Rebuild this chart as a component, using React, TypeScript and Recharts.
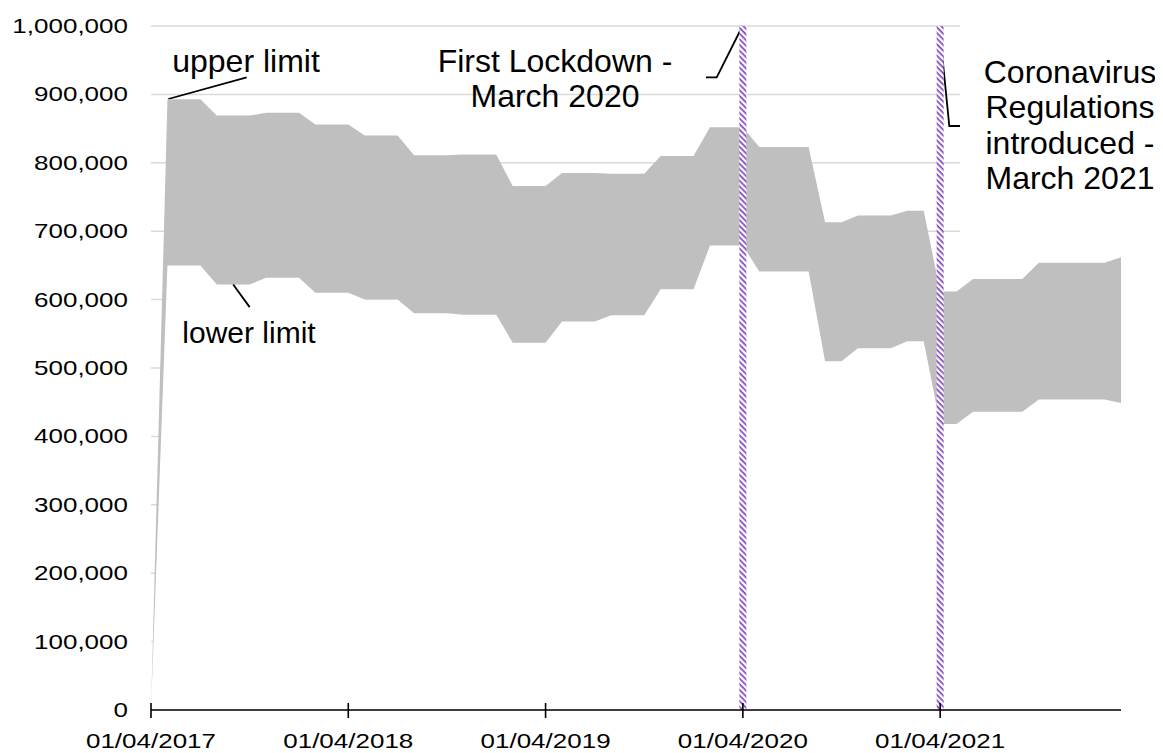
import { AreaChart, Area, XAxis, YAxis, CartesianGrid, ReferenceLine, Customized } from 'recharts';

// ── Data ──────────────────────────────────────────────────────────────────────

const months = [
  '01/04/2017', '01/05/2017', '01/06/2017', '01/07/2017', '01/08/2017', '01/09/2017',
  '01/10/2017', '01/11/2017', '01/12/2017', '01/01/2018', '01/02/2018', '01/03/2018',
  '01/04/2018', '01/05/2018', '01/06/2018', '01/07/2018', '01/08/2018', '01/09/2018',
  '01/10/2018', '01/11/2018', '01/12/2018', '01/01/2019', '01/02/2019', '01/03/2019',
  '01/04/2019', '01/05/2019', '01/06/2019', '01/07/2019', '01/08/2019', '01/09/2019',
  '01/10/2019', '01/11/2019', '01/12/2019', '01/01/2020', '01/02/2020', '01/03/2020',
  '01/04/2020', '01/05/2020', '01/06/2020', '01/07/2020', '01/08/2020', '01/09/2020',
  '01/10/2020', '01/11/2020', '01/12/2020', '01/01/2021', '01/02/2021', '01/03/2021',
  '01/04/2021', '01/05/2021', '01/06/2021', '01/07/2021', '01/08/2021', '01/09/2021',
  '01/10/2021', '01/11/2021', '01/12/2021', '01/01/2022', '01/02/2022', '01/03/2022',
];

const upperLimit = [
  0, 893000, 893000, 893000, 869000, 869000, 869000, 873000, 873000, 873000,
  856000, 856000, 856000, 840000, 840000, 840000, 811000, 811000, 811000, 812000,
  812000, 812000, 766000, 766000, 766000, 785000, 785000, 785000, 784000, 784000,
  784000, 810000, 810000, 810000, 852000, 852000, 852000, 823000, 823000, 823000,
  823000, 713000, 713000, 723000, 723000, 723000, 730000, 730000, 612000, 612000,
  630000, 630000, 630000, 630000, 654000, 654000, 654000, 654000, 654000, 662000,
];

const lowerLimit = [
  0, 650000, 650000, 650000, 622000, 622000, 622000, 632000, 632000, 632000,
  610000, 610000, 610000, 600000, 600000, 600000, 580000, 580000, 580000, 578000,
  578000, 578000, 537000, 537000, 537000, 568000, 568000, 568000, 577000, 577000,
  577000, 615000, 615000, 615000, 679000, 679000, 679000, 641000, 641000, 641000,
  641000, 510000, 510000, 529000, 529000, 529000, 539000, 539000, 418000, 418000,
  436000, 436000, 436000, 436000, 454000, 454000, 454000, 454000, 454000, 449000,
];

const xTicks = ['01/04/2017', '01/04/2018', '01/04/2019', '01/04/2020', '01/04/2021'];
const yTicks = [0, 100000, 200000, 300000, 400000, 500000, 600000, 700000, 800000, 900000, 1000000];

const firstLockdown = '01/04/2020';
const regulations = '01/04/2021';

const data = months.map((m, i) => ({
  month: m,
  lower: lowerLimit[i],
  band: [lowerLimit[i], upperLimit[i]],
}));

const FONT = 'Liberation Sans, Arial, sans-serif';
const STRETCH = 1.3;
const txt = { fontSize: 32, fontFamily: FONT, fill: '#000', textAnchor: 'middle' as const };

// ── Ticks ─────────────────────────────────────────────────────────────────────

function YTick({ x, y, payload }: any) {
  return (
    <text
      x={x}
      y={y}
      dy="0.355em"
      textAnchor="end"
      fontSize={20}
      fontFamily={FONT}
      fill="#000"
      transform={`translate(${x} ${y}) scale(${STRETCH} 1) translate(${-x} ${-y})`}
    >
      {Number(payload.value).toLocaleString('en-US')}
    </text>
  );
}

function XTick({ x, y, payload }: any) {
  const ty = y + 38;
  return (
    <g>
      <line x1={x} x2={x} y1={y - 7} y2={y + 8} stroke="#000" strokeWidth={1.6} />
      <text
        x={x}
        y={ty}
        textAnchor="middle"
        fontSize={20}
        fontFamily={FONT}
        fill="#000"
        transform={`translate(${x} ${ty}) scale(${STRETCH} 1) translate(${-x} ${-ty})`}
      >
        {payload.value}
      </text>
    </g>
  );
}

// ── Annotations ───────────────────────────────────────────────────────────────

function Annotations() {
  return (
    <g>
      <rect x={952} y={12} width={203} height={228} fill="#fff" />
      <polyline points="160.3,91 238.7,69.3" stroke="#000" strokeWidth={1.8} fill="none" />
      <polyline points="698,69.3 708.7,69.3 734.5,18" stroke="#000" strokeWidth={1.8} fill="none" />
      <polyline points="931.3,18 941.3,118 952,118" stroke="#000" strokeWidth={1.8} fill="none" />
      <text x={238} y={63.7} {...txt}>upper limit</text>
      <text x={547} y={63.7} {...txt}>First Lockdown -</text>
      <text x={547} y={99.3} {...txt}>March 2020</text>
      <text x={1062} y={74.5} {...txt}>Coronavirus</text>
      <text x={1062} y={110} {...txt}>Regulations</text>
      <text x={1062} y={145.5} {...txt}>introduced -</text>
      <text x={1062} y={181} {...txt}>March 2021</text>
    </g>
  );
}

function LowerLabel() {
  return <text x={241} y={335} {...txt} fontSize={30}>lower limit</text>;
}

function HatchDefs() {
  return (
    <defs>
      <pattern id="hatch" patternUnits="userSpaceOnUse" width={4} height={4} patternTransform="rotate(45)">
        <rect x={0} y={0} width={4} height={4} fill="#fff" />
        <rect x={0} y={0} width={4} height={1.6} fill="#7a3cc4" />
      </pattern>
    </defs>
  );
}

// ── Chart ─────────────────────────────────────────────────────────────────────

export default function App() {
  return (
    <AreaChart
      width={1155}
      height={745}
      data={data}
      margin={{ top: 18, right: 42, left: 0, bottom: 0 }}
    >
      <Customized component={HatchDefs} />
      <CartesianGrid vertical={false} stroke="#d9d9d9" strokeWidth={1.5} />
      <XAxis
        dataKey="month"
        scale="point"
        ticks={xTicks}
        interval={0}
        height={43}
        tickSize={0}
        tickMargin={0}
        tickLine={false}
        axisLine={{ stroke: '#000', strokeWidth: 1.6 }}
        tick={<XTick />}
      />
      <YAxis
        domain={[0, 1000000]}
        ticks={yTicks}
        width={143}
        axisLine={false}
        tickLine={false}
        tickSize={0}
        tickMargin={23}
        tick={<YTick />}
      />
      <Area
        dataKey="lower"
        type="linear"
        fill="#ffffff"
        fillOpacity={1}
        stroke="none"
        dot={false}
        activeDot={false}
        isAnimationActive={false}
      />
      <Area
        dataKey="band"
        type="linear"
        fill="#bfbfbf"
        fillOpacity={1}
        stroke="none"
        dot={false}
        activeDot={false}
        isAnimationActive={false}
      />
      <ReferenceLine x={firstLockdown} stroke="url(#hatch)" strokeWidth={7} />
      <ReferenceLine x={regulations} stroke="url(#hatch)" strokeWidth={7} />
      <ReferenceLine
        segment={[{ x: months[5], y: 622000 }, { x: months[6], y: 589000 }]}
        stroke="#000"
        strokeWidth={1.8}
        label={<LowerLabel />}
      />
      <Customized component={Annotations} />
    </AreaChart>
  );
}
